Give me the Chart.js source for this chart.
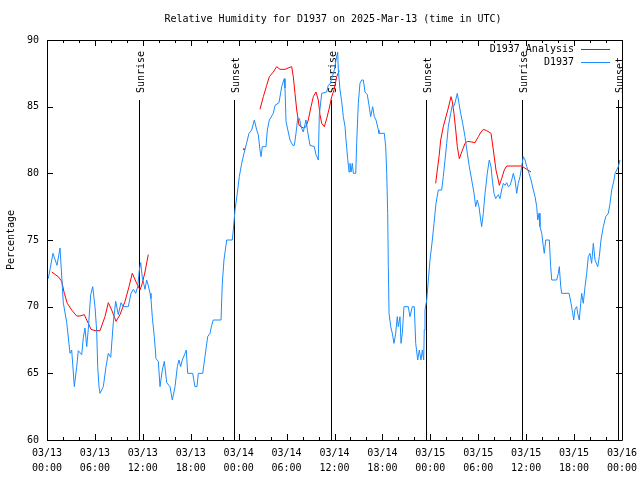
<!DOCTYPE html>
<html>
<head>
<meta charset="utf-8">
<title>Relative Humidity D1937</title>
<script src="https://cdn.jsdelivr.net/npm/chart.js@4.4.1/dist/chart.umd.min.js"></script>
<style>
  html, body { margin: 0; padding: 0; background: #fff; }
  #wrap { width: 640px; height: 480px; }
</style>
</head>
<body>
<div id="wrap"><canvas id="rhChart" width="640" height="480"></canvas></div>
<script>
// ---- data (hours since 03/13 00:00 UTC) ----
const humidityHours = [
  0.16, 0.75, 1.25, 1.63, 2.04, 2.47, 2.88, 3.09, 3.42, 3.72, 3.92, 4.35, 4.55, 4.76, 4.97, 5.17,
  5.47, 5.72, 6.01, 6.22, 6.35, 6.51, 6.64, 7.05, 7.39, 7.68, 7.98, 8.30, 8.60, 8.93, 9.27, 9.55,
  10.18, 10.52, 10.81, 11.11, 11.36, 11.56, 11.73, 11.93, 12.27, 12.48, 12.68, 12.90, 13.02, 13.19,
  13.44, 13.65, 13.94, 14.15, 14.44, 14.69, 14.99, 15.40, 15.69, 16.03, 16.32, 16.53, 16.74, 16.94,
  17.28, 17.44, 17.62, 18.24, 18.53, 18.78, 18.95, 19.50, 19.78, 20.12, 20.41, 20.62, 20.82, 21.79,
  21.95, 22.16, 22.50, 23.20, 23.33, 23.54, 23.83, 24.08, 24.38, 24.67, 25.01, 25.29, 25.63, 25.96,
  26.26, 26.46, 26.67, 26.80, 26.96, 27.42, 27.59, 27.84, 28.34, 28.55, 29.05, 29.39, 29.71, 29.80,
  29.93, 30.21, 30.43, 30.77, 30.97, 31.18, 31.39, 31.62, 31.81, 32.09, 32.43, 32.62, 32.93, 33.47,
  33.68, 33.97, 34.10, 34.40, 35.02, 35.22, 35.44, 35.65, 35.98, 36.19, 36.40, 36.48, 36.69, 36.90,
  37.10, 37.32, 37.44, 37.65, 37.82, 37.94, 38.07, 38.23, 38.36, 38.66, 38.78, 38.98, 39.19, 39.41,
  39.61, 39.82, 40.11, 40.32, 40.53, 40.78, 40.98, 41.20, 41.49, 41.57, 42.24, 42.41, 42.54, 42.66,
  42.74, 42.83, 43.04, 43.24, 43.45, 43.66, 43.86, 43.99, 44.20, 44.33, 44.49, 44.70, 45.24, 45.45,
  45.74, 45.99, 46.17, 46.42, 46.62, 46.83, 47.00, 47.17, 47.24, 47.33, 47.55, 47.75, 47.96, 48.25,
  48.46, 48.71, 49.00, 49.42, 49.62, 49.84, 50.05, 50.25, 50.55, 50.75, 51.00, 51.18, 51.38, 51.59,
  51.80, 52.05, 52.34, 52.63, 52.88, 53.18, 53.47, 53.68, 53.88, 54.09, 54.31, 54.43, 54.63, 54.85,
  55.13, 55.38, 55.60, 55.76, 55.97, 56.18, 56.51, 56.72, 56.93, 57.14, 57.35, 57.56, 57.76, 57.98,
  58.19, 58.39, 58.60, 58.82, 59.01, 59.23, 59.44, 59.64, 59.86, 60.07, 60.36, 60.61, 60.90, 61.11,
  61.32, 61.45, 61.61, 61.73, 61.95, 62.15, 62.27, 62.45, 62.90, 63.07, 63.20, 63.82, 64.03, 64.15,
  64.33, 64.45, 65.37, 65.62, 65.83, 65.95, 66.11, 66.33, 66.45, 66.65, 66.83, 66.95, 67.15, 67.37,
  67.58, 67.78, 67.99, 68.20, 68.41, 68.62, 68.96, 69.16, 69.37, 69.66, 69.96, 70.29, 70.50, 70.71,
  71.00, 71.13, 71.34, 71.54, 71.75
];
const humidityValues = [
  72.1, 74.0, 73.1, 74.4, 70.3, 68.8, 66.5, 66.75, 64.0, 65.5, 66.7, 66.4, 67.7, 68.4, 67.0, 68.3,
  70.9, 71.5, 70.0, 68.2, 65.5, 64.0, 63.5, 64.0, 65.5, 66.5, 66.2, 68.8, 70.4, 69.4, 70.3, 70.0,
  70.0, 71.0, 71.3, 71.0, 71.5, 72.75, 73.3, 72.2, 71.3, 72.0, 71.6, 71.0, 70.6, 69.2,
  67.7, 66.1, 65.9, 64.0, 65.25, 65.9, 64.3, 64.0, 63.0, 64.0, 65.5, 66.0, 65.5, 66.0,
  66.5, 66.75, 65.0, 65.0, 64.0, 64.0, 65.0, 65.0, 66.25, 67.75, 68.0, 68.6, 69.0, 69.0,
  71.75, 73.5, 75.0, 75.0, 75.75, 77.25, 78.5, 79.75, 80.75, 81.5, 82.3, 83.0, 83.25, 84.0,
  83.25, 82.9, 81.75, 81.25, 82.0, 82.0, 83.25, 84.0, 84.5, 85.1, 85.3, 86.5, 87.1, 86.4,
  83.9, 83.1, 82.5, 82.1, 82.1, 83.0, 84.1, 84.1, 83.5, 83.1, 84.0, 83.2, 82.1, 82.0,
  81.4, 81.0, 84.4, 86.0, 86.1, 86.6, 86.7, 87.1, 87.75, 88.5, 89.1, 87.75, 86.25, 85.4,
  84.25, 83.5, 82.5, 81.1, 80.1, 80.75, 80.1, 80.75, 80.0, 80.0, 82.3, 85.25, 86.75, 87.0,
  87.0, 86.1, 85.9, 85.1, 84.25, 85.0, 84.25, 84.0, 83.25, 83.0, 83.0, 82.0, 80.0, 77.0,
  73.0, 69.5, 68.5, 68.0, 67.25, 68.0, 69.25, 68.5, 69.25, 67.25, 68.0, 70.0, 70.0, 69.25,
  70.0, 70.0, 67.25, 66.0, 66.75, 66.0, 66.75, 66.0, 68.25, 69.75, 70.5, 72.0, 73.5, 75.0,
  76.25, 77.75, 78.75, 78.75, 79.75, 81.0, 82.25, 83.5, 84.5, 85.1, 85.1, 85.5, 86.0, 85.25,
  84.5, 83.75, 82.75, 81.5, 80.5, 79.5, 78.5, 77.5, 78.0, 77.5, 76.5, 76.0, 77.0, 78.5,
  80.0, 81.0, 80.5, 79.5, 78.5, 78.1, 78.4, 78.1, 78.75, 79.25, 79.1, 79.3, 79.0, 79.1,
  79.5, 80.0, 79.5, 78.5, 79.25, 79.75, 80.5, 81.25, 81.0, 80.5, 80.0, 79.5, 78.75, 78.25,
  77.5, 76.5, 77.0, 76.0, 75.5, 74.5, 74.0, 75.0, 75.0, 73.0, 72.0, 72.0, 72.5, 73.0,
  71.5, 71.0, 71.0, 70.25, 69.5, 69.0, 69.8, 70.0, 69.5, 69.0, 70.25, 71.0, 70.25, 71.5,
  72.5, 73.75, 74.0, 73.25, 74.75, 73.5, 73.0, 73.75, 75.0, 76.0, 76.75, 77.0, 77.75, 78.75,
  79.5, 80.0, 80.25, 80.5, 81.0
];

// analysis series has gaps (null breaks the line)
const analysisHours = [
  0.59, 1.41, 1.84, 2.17, 2.54, 3.09, 3.72, 4.13, 4.67, 5.17, 5.51, 6.01, 6.64, 7.26, 7.68, 8.10,
  8.64, 9.14, 9.77, 10.27, 10.68, 11.23, 11.65, 11.93, 12.27, 12.68,
  18.0, 24.67, 25.5,
  26.67, 27.09, 27.51, 27.84, 28.34, 28.76, 29.18, 29.80, 30.21, 30.64, 30.84, 31.05, 31.27, 31.56,
  32.09, 32.43, 32.72, 33.06, 33.35, 33.68, 33.97, 34.18, 34.40, 34.73, 35.02, 35.35, 35.65, 35.94,
  36.28, 36.60,
  42.0,
  48.67, 48.87, 49.09, 49.30, 49.62, 49.96, 50.25, 50.59, 50.75, 50.96, 51.18, 51.38, 51.63, 51.93,
  52.34, 52.68, 53.18, 53.59, 54.01, 54.35, 54.63, 55.06, 55.60, 55.89, 56.22, 56.51, 56.64, 56.93,
  57.26, 57.56, 59.44, 60.07, 60.61
];
const analysisValues = [
  72.6, 72.25, 71.9, 71.0, 70.25, 69.75, 69.3, 69.3, 69.4, 68.75, 68.3, 68.2, 68.2, 69.25, 70.3, 69.75,
  68.9, 69.4, 70.4, 71.5, 72.5, 71.75, 71.25, 71.75, 72.6, 73.9,
  null, 81.8, null,
  84.8, 85.75, 86.6, 87.25, 87.6, 88.0, 87.8, 87.8, 87.9, 88.0, 87.25, 86.0, 84.75, 83.6,
  83.4, 83.5, 84.0, 85.0, 85.75, 86.1, 85.5, 84.4, 83.75, 83.5, 84.1, 84.9, 85.75, 86.25,
  87.25, 87.7,
  null,
  79.25, 80.25, 81.25, 82.5, 83.5, 84.25, 84.9, 85.75, 85.4, 84.5, 83.25, 82.0, 81.1, 81.6,
  82.25, 82.4, 82.35, 82.3, 82.75, 83.1, 83.3, 83.2, 83.0, 81.75, 80.25, 79.5, 79.1, 79.6,
  80.25, 80.55, 80.55, 80.3, 80.1
];

const sunLabels = ['Sunrise', 'Sunset', 'Sunrise', 'Sunset', 'Sunrise', 'Sunset'];
const sunHours = [11.53, 23.42, 35.52, 47.44, 59.48, 71.45];

const yTickValues = [60, 65, 70, 75, 80, 85, 90];
const startDay = 13;

const FONT = '10px "DejaVu Sans Mono", "Liberation Mono", monospace';
const BLUE = '#1a8cff';
const RED = '#ff0000';

function toPoints(hours, values) {
  return hours.map((h, i) => ({ x: h, y: values[i] }));
}

function pad2(n) {
  return (n < 10 ? '0' : '') + n;
}

// gnuplot-like frame: border, inward ticks, sun markers, title, legend
const framePlugin = {
  id: 'frame',
  beforeDatasetsDraw(chart) {
    const { ctx, chartArea: a, scales } = chart;
    ctx.save();
    ctx.strokeStyle = '#000';
    ctx.lineWidth = 1;
    ctx.fillStyle = '#000';
    ctx.font = FONT;
    sunHours.forEach((h, i) => {
      const x = Math.round(scales.x.getPixelForValue(h)) + 0.5;
      ctx.beginPath();
      ctx.moveTo(x, 100);
      ctx.lineTo(x, a.bottom);
      ctx.stroke();
      // rotated label, reading bottom to top
      ctx.save();
      ctx.translate(x + 4, 93);
      ctx.rotate(-Math.PI / 2);
      ctx.textAlign = 'left';
      ctx.textBaseline = 'alphabetic';
      ctx.fillText(sunLabels[i], 0, 0);
      ctx.restore();
    });
    ctx.restore();
  },
  afterDraw(chart) {
    const { ctx, chartArea: a, scales } = chart;
    ctx.save();
    ctx.strokeStyle = '#000';
    ctx.lineWidth = 1;
    ctx.beginPath();
    ctx.rect(Math.round(a.left) + 0.5, Math.round(a.top) + 0.5,
      Math.round(a.right - a.left), Math.round(a.bottom - a.top));
    ctx.stroke();

    // x ticks every 2 h, longer every 6 h
    ctx.beginPath();
    for (let h = 0; h <= 72; h += 2) {
      const x = Math.round(scales.x.getPixelForValue(h)) + 0.5;
      const len = h % 6 === 0 ? 6 : 3;
      ctx.moveTo(x, a.bottom);
      ctx.lineTo(x, a.bottom - len);
      ctx.moveTo(x, a.top);
      ctx.lineTo(x, a.top + len);
    }
    // y ticks
    yTickValues.forEach(v => {
      const y = Math.round(scales.y.getPixelForValue(v)) + 0.5;
      ctx.moveTo(a.left, y);
      ctx.lineTo(a.left + 6, y);
      ctx.moveTo(a.right, y);
      ctx.lineTo(a.right - 6, y);
    });
    ctx.stroke();

    ctx.fillStyle = '#000';
    ctx.font = FONT;
    ctx.textAlign = 'center';
    ctx.textBaseline = 'middle';
    ctx.fillText('Relative Humidity for D1937 on 2025-Mar-13 (time in UTC)', 333, 19);

    ctx.save();
    ctx.translate(11, 240);
    ctx.rotate(-Math.PI / 2);
    ctx.fillText('Percentage', 0, 0);
    ctx.restore();

    // legend (top right, inside plot)
    const entries = [
      { label: 'D1937 Analysis', color: RED, y: 49 },
      { label: 'D1937', color: BLUE, y: 62 }
    ];
    ctx.textAlign = 'right';
    entries.forEach(e => {
      ctx.fillStyle = '#000';
      ctx.fillText(e.label, 574, e.y);
      ctx.strokeStyle = e.color;
      ctx.beginPath();
      ctx.moveTo(581, e.y + 0.5);
      ctx.lineTo(610, e.y + 0.5);
      ctx.stroke();
    });
    ctx.restore();
  }
};

Chart.defaults.color = '#000';
Chart.defaults.font.family = '"DejaVu Sans Mono", "Liberation Mono", monospace';
Chart.defaults.font.size = 10;

const ctx = document.getElementById('rhChart');
new Chart(ctx, {
  type: 'line',
  data: {
    datasets: [
      {
        label: 'D1937',
        data: toPoints(humidityHours, humidityValues),
        borderColor: BLUE,
        borderWidth: 1,
        pointRadius: 0,
        tension: 0,
        fill: false
      },
      {
        label: 'D1937 Analysis',
        data: toPoints(analysisHours, analysisValues),
        borderColor: RED,
        backgroundColor: RED,
        borderWidth: 1,
        // lone analysis value shows as a dot
        pointRadius: c => {
          const v = analysisValues;
          const i = c.dataIndex;
          return (v[i] !== null && v[i - 1] === null && v[i + 1] === null) ? 1 : 0;
        },
        pointBorderWidth: 0,
        tension: 0,
        spanGaps: false,
        fill: false
      }
    ]
  },
  options: {
    responsive: false,
    animation: false,
    events: [],
    layout: { padding: { top: 40, right: 18, left: 0, bottom: 0 } },
    plugins: {
      legend: { display: false },
      title: { display: false },
      tooltip: { enabled: false }
    },
    scales: {
      x: {
        type: 'linear',
        min: 0,
        max: 72,
        grid: { display: false, drawTicks: false },
        border: { display: false },
        afterFit: s => {
          s.height = 40;
          s.paddingLeft = 0;
          s.paddingRight = 0;
        },
        ticks: {
          stepSize: 6,
          padding: 6,
          maxRotation: 0,
          autoSkip: false,
          font: { size: 10, lineHeight: 1.5 },
          callback: v => ['03/' + pad2(startDay + Math.floor(v / 24)), pad2(v % 24) + ':00']
        }
      },
      y: {
        min: 60,
        max: 90,
        grid: { display: false, drawTicks: false },
        border: { display: false },
        afterFit: s => { s.width = 47; },
        ticks: { stepSize: 5, padding: 8 }
      }
    }
  },
  plugins: [framePlugin]
});
</script>
</body>
</html>
